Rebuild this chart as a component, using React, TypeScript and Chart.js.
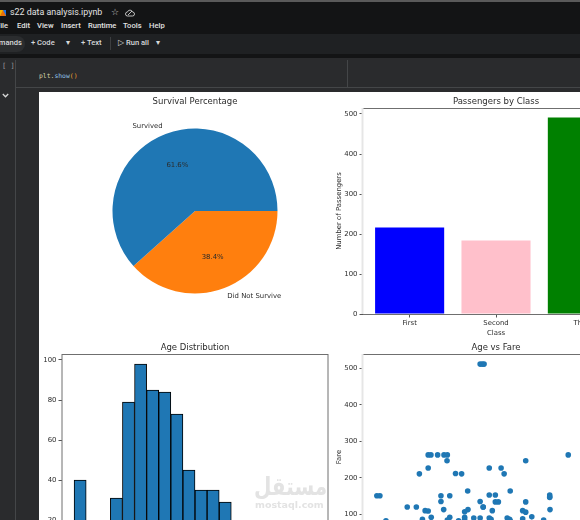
import React, { useEffect, useRef } from 'react';
import { Chart, registerables } from 'chart.js';

Chart.register(...registerables);
Chart.defaults.font.family = '"DejaVu Sans", sans-serif';
Chart.defaults.color = '#2b2b2b';

const surviveLabels = ['Did Not Survive', 'Survived'];
const surviveValues = [38.4, 61.6];

const classLabels = ['First', 'Second', 'Third'];
const classValues = [216, 184, 491];
const classPositions = [0, 1, 2];
const classTicks = [0, 100, 200, 300, 400, 500];

const ageBinCenters = [2.41, 6.39, 10.37, 14.35, 18.33, 22.31, 26.29, 30.27, 34.25, 38.23, 42.21, 46.19, 50.17, 54.15, 58.13, 62.11, 66.09, 70.07, 74.05, 78.03];
const ageBinCounts = [40, 14, 15, 31, 79, 98, 85, 84, 73, 45, 35, 35, 29, 16, 13, 11, 4, 5, 1, 1];
const ageCountTicks = [0, 20, 40, 60, 80, 100];
const ageTicks = [0, 20, 40, 60, 80];

const scatterAges = [35, 35.7, 36.3, 17.9, 18.8, 21, 23.1, 24.2, 64, 24.1, 50, 17.9, 38, 41.9, 15, 26.9, 28.9, 42.9, 1, 2, 22.1, 25, 30.9, 44.9, 38, 40, 57.9, 57.9, 57.9, 22.1, 35, 36, 40, 41, 50, 11, 14, 36, 16.9, 17.9, 23, 39, 49, 50, 58, 31, 29.9, 18.9, 25, 29.9, 32.9, 35, 38, 43.9, 49, 52, 16, 24.2, 29.9, 38.6, 44.7, 55.9, 4, 27.9, 44.9];
const scatterFares = [512, 512, 512, 263, 263, 263, 263, 263, 263, 247, 247, 227, 227, 227, 211, 212, 211, 211, 151, 151, 151, 151, 164, 164, 153, 153, 153, 148, 146, 135, 135, 120, 134, 134, 134, 120, 120, 120, 110, 109, 113, 110, 110, 106, 113, 113, 107, 92, 92, 92, 90, 90, 90, 90, 88, 93, 86, 84, 86, 86, 86, 84, 82, 82, 82];
const fareTicks = [0, 100, 200, 300, 400, 500];

const blue = '#1f77b4';
const orange = '#ff7f0e';
const spine = '#6f6f6f';
const titleFont = '8.5px "DejaVu Sans", sans-serif';
const labelFont = '6.9px "DejaVu Sans", sans-serif';

// matplotlib style frame and a title centred over the plot, not the canvas
const framePlugin = {
  id: 'frame',
  afterDraw(chart: any, _args: any, opts: any) {
    const { ctx, chartArea: a } = chart;
    ctx.save();
    ctx.font = titleFont;
    ctx.fillStyle = '#2b2b2b';
    ctx.textAlign = 'center';
    ctx.textBaseline = 'middle';
    ctx.fillText(opts.title, opts.pie ? chart.width / 2 : (a.left + a.right) / 2, 9.8);
    if (!opts.pie) {
      ctx.strokeStyle = spine;
      ctx.lineWidth = 1;
      ctx.beginPath();
      ctx.moveTo(a.left, a.bottom + 0.5);
      ctx.lineTo(a.right, a.bottom + 0.5);
      ctx.moveTo(a.left, a.top + 0.5);
      ctx.lineTo(a.right, a.top + 0.5);
      ctx.moveTo(a.right, a.top);
      ctx.lineTo(a.right, a.bottom);
      ctx.stroke();
      ctx.strokeStyle = opts.leftColor;
      ctx.lineWidth = opts.leftWidth;
      ctx.beginPath();
      ctx.moveTo(a.left - opts.leftWidth / 2 + 0.5, a.top);
      ctx.lineTo(a.left - opts.leftWidth / 2 + 0.5, a.bottom);
      ctx.stroke();
    }
    ctx.restore();
  },
};

// labels sit outside the wedge at 1.1 r, percentages inside at 0.6 r
const pieTextPlugin = {
  id: 'pieText',
  afterDatasetsDraw(chart: any) {
    const { ctx } = chart;
    ctx.save();
    ctx.font = labelFont;
    ctx.fillStyle = '#2b2b2b';
    ctx.textBaseline = 'middle';
    chart.getDatasetMeta(0).data.forEach((arc: any, i: number) => {
      const mid = (arc.startAngle + arc.endAngle) / 2;
      const r = arc.outerRadius;
      const cos = Math.cos(mid);
      const sin = Math.sin(mid);
      ctx.textAlign = 'center';
      ctx.fillText(surviveValues[i].toFixed(1) + '%', arc.x + 0.6 * r * cos, arc.y + 0.6 * r * sin);
      ctx.textAlign = cos > 0 ? 'left' : 'right';
      ctx.fillText(surviveLabels[i], arc.x + 1.1 * r * cos, arc.y + 1.1 * r * sin);
    });
    ctx.restore();
  },
};

const tickFont = { size: 6.9 };

const xAxis = (min: number, max: number, ticks: number[], title: string, labels?: string[]) => ({
  type: 'linear',
  offset: false,
  min,
  max,
  afterFit: (s: any) => { s.height = 28; },
  afterBuildTicks: (s: any) => { s.ticks = ticks.map((value) => ({ value })); },
  grid: { display: true, drawOnChartArea: false, tickLength: 3.5, tickColor: '#555', offset: false },
  border: { display: false },
  ticks: {
    font: tickFont,
    padding: 2,
    maxRotation: 0,
    autoSkip: false,
    callback: (v: number) => (labels ? labels[v] : String(v)),
  },
  title: { display: !!title, text: title, font: tickFont, padding: { top: 0, bottom: 5 } },
});

const yAxis = (min: number, max: number, ticks: number[], title: string, width: number) => ({
  min,
  max,
  afterFit: (s: any) => { s.width = width; },
  afterBuildTicks: (s: any) => { s.ticks = ticks.map((value) => ({ value })); },
  grid: { display: true, drawOnChartArea: false, tickLength: 3.5, tickColor: '#555' },
  border: { display: false },
  ticks: { font: tickFont, padding: 2, autoSkip: false },
  title: { display: !!title, text: title, font: tickFont, padding: { top: 2, bottom: 0 } },
});

const baseOptions = {
  responsive: false,
  animation: false,
  events: [],
};

const pieConfig = {
  type: 'pie',
  data: {
    labels: surviveLabels,
    datasets: [{ data: surviveValues, backgroundColor: [orange, blue], borderWidth: 0 }],
  },
  options: {
    ...baseOptions,
    rotation: 90,
    layout: { padding: { left: 12.5, right: 12.5, top: 36.5, bottom: 36.5 } },
    plugins: {
      legend: { display: false },
      tooltip: { enabled: false },
      frame: { title: 'Survival Percentage', pie: true },
    },
  },
  plugins: [pieTextPlugin, framePlugin],
};

const classConfig = {
  type: 'bar',
  data: {
    datasets: [{
      data: classPositions.map((x, i) => ({ x, y: classValues[i] })),
      backgroundColor: ['#0000ff', '#ffc0cb', '#008000'],
      barPercentage: 0.8,
      categoryPercentage: 1,
    }],
  },
  options: {
    ...baseOptions,
    layout: { padding: { top: 16, right: 30 } },
    scales: {
      x: xAxis(-0.54, 2.54, classPositions, 'Class', classLabels),
      y: yAxis(0, 515, classTicks, 'Number of Passengers', 30),
    },
    plugins: {
      legend: { display: false },
      tooltip: { enabled: false },
      frame: { title: 'Passengers by Class', leftColor: '#e6e6e6', leftWidth: 2 },
    },
  },
  plugins: [framePlugin],
};

const ageConfig = {
  type: 'bar',
  data: {
    datasets: [{
      data: ageBinCenters.map((x, i) => ({ x, y: ageBinCounts[i] })),
      backgroundColor: blue,
      borderColor: '#000000',
      borderWidth: 1,
      borderSkipped: false,
      barPercentage: 1,
      categoryPercentage: 1,
    }],
  },
  options: {
    ...baseOptions,
    layout: { padding: { top: 16, right: 5 } },
    scales: {
      x: xAxis(-3.56, 84, ageTicks, 'Age'),
      y: yAxis(0, 103, ageCountTicks, '', 26),
    },
    plugins: {
      legend: { display: false },
      tooltip: { enabled: false },
      frame: { title: 'Age Distribution', leftColor: spine, leftWidth: 1 },
    },
  },
  plugins: [framePlugin],
};

const scatterConfig = {
  type: 'scatter',
  data: {
    datasets: [{
      data: scatterAges.map((x, i) => ({ x, y: scatterFares[i] })),
      backgroundColor: blue,
      borderWidth: 0,
      pointRadius: 2.8,
    }],
  },
  options: {
    ...baseOptions,
    layout: { padding: { top: 16, right: 30 } },
    scales: {
      x: xAxis(-3.56, 84, ageTicks, 'Age'),
      y: yAxis(-25.3, 539.7, fareTicks, 'Fare', 30),
    },
    plugins: {
      legend: { display: false },
      tooltip: { enabled: false },
      frame: { title: 'Age vs Fare', leftColor: '#e6e6e6', leftWidth: 2 },
    },
  },
  plugins: [framePlugin],
};

const ChartCanvas = ({ config, left, top, width, height }: any) => {
  const canvasRef = useRef<HTMLCanvasElement | null>(null);

  useEffect(() => {
    if (!canvasRef.current) return;
    const chart = new Chart(canvasRef.current, config);
    return () => chart.destroy();
  }, [config]);

  return (
    <canvas
      ref={canvasRef}
      width={width}
      height={height}
      style={{ position: 'absolute', left, top, width, height }}
    />
  );
};

const at = (left: number, top: number, extra: React.CSSProperties = {}): React.CSSProperties => ({
  position: 'absolute',
  left,
  top,
  whiteSpace: 'nowrap',
  ...extra,
});

const Menu = ({ x, children }: any) => (
  <div style={at(x, 21, { fontSize: 7.6, fontWeight: 500, color: '#e3e3e3' })}>{children}</div>
);

const Tool = ({ x, children }: any) => (
  <div style={at(x, 38, { fontSize: 7.6, fontWeight: 500, color: '#d6d8da' })}>{children}</div>
);

const App = () => (
  <div style={{ position: 'relative', width: 580, height: 520, overflow: 'hidden', background: '#2a2b2d', fontFamily: 'Roboto, sans-serif' }}>
    <style>{'body{margin:0;overflow:hidden}'}</style>

    {/* notebook chrome */}
    <div style={at(0, 0, { width: 580, height: 2, background: '#5a5a5a' })} />
    <div style={at(0, 2, { width: 580, height: 32, background: '#131415' })} />
    <div style={at(0, 34, { width: 580, height: 20, background: '#1f2123' })} />
    <div style={at(0, 54, { width: 580, height: 4, background: '#131415' })} />
    <div style={at(15, 60, { width: 1, height: 460, background: '#444648' })} />
    <div style={at(15, 87, { width: 565, height: 1, background: '#444648' })} />
    <div style={at(347, 60, { width: 1, height: 27, background: '#444648' })} />

    <div style={at(0, 10, { width: 0, height: 0, borderLeft: '3px solid #f4b400', borderRight: '3px solid #1a73e8', borderBottom: '6px solid #e8710a' })} />
    <div style={at(10, 7, { fontSize: 8.9, color: '#e3e3e3' })}>s22 data analysis.ipynb</div>
    <div style={at(111, 7, { fontSize: 9, color: '#d0d0d0' })}>☆</div>
    <svg style={at(125, 9, {})} width="10" height="8" viewBox="0 0 10 8">
      <path d="M2.5 7 A2 2 0 0 1 2.5 3 A2.6 2.6 0 0 1 7.5 3 A2 2 0 0 1 7.5 7 Z M3 6 L7 2" fill="none" stroke="#d0d0d0" strokeWidth="0.9" />
    </svg>

    <Menu x={-4}>File</Menu>
    <Menu x={17}>Edit</Menu>
    <Menu x={37}>View</Menu>
    <Menu x={61}>Insert</Menu>
    <Menu x={88}>Runtime</Menu>
    <Menu x={123}>Tools</Menu>
    <Menu x={149}>Help</Menu>

    <div style={at(-20, 36, { width: 45, height: 16, borderRadius: 8, background: '#2b2d2f' })} />
    <div style={at(0, 38, { width: 22, overflow: 'hidden', direction: 'rtl', fontSize: 7.6, fontWeight: 500, color: '#d6d8da' })}>Commands</div>
    <Tool x={31}>+ Code</Tool>
    <Tool x={66}>▾</Tool>
    <Tool x={81}>+ Text</Tool>
    <div style={at(110, 37, { width: 1, height: 13, background: '#3c3e40' })} />
    <Tool x={118}>▷ Run all</Tool>
    <Tool x={156}>▾</Tool>

    <div style={at(2, 62, { fontSize: 7, color: '#9a9a9a', fontFamily: '"DejaVu Sans Mono", monospace' })}>[ ]</div>
    <svg style={at(2, 93, {})} width="7" height="5" viewBox="0 0 7 5">
      <path d="M0.8 1 L3.5 3.8 L6.2 1" fill="none" stroke="#d8d8d8" strokeWidth="1.3" />
    </svg>
    <div style={at(39, 72, { fontSize: 6.4, fontFamily: '"DejaVu Sans Mono", monospace', color: '#d7d2a8' })}>
      plt.<span style={{ color: '#8fc1e8' }}>show</span><span style={{ color: '#f0a030' }}>()</span>
    </div>

    {/* output panel */}
    <div style={at(39, 92, { width: 541, height: 428, background: '#ffffff' })} />
    <ChartCanvas config={pieConfig} left={100} top={92} width={190} height={238} />
    <ChartCanvas config={classConfig} left={333} top={92} width={326} height={250} />
    <ChartCanvas config={ageConfig} left={36} top={338} width={297} height={250} />
    <ChartCanvas config={scatterConfig} left={333} top={338} width={326} height={250} />

    {/* watermark */}
    <div style={at(254, 474, { fontSize: 20, fontWeight: 700, color: '#e3e3e3', fontFamily: '"DejaVu Sans", sans-serif', transform: 'scaleY(1.25)', transformOrigin: 'left center' })}>مستقل</div>
    <div style={at(255, 499, { fontSize: 9.5, fontWeight: 700, color: '#e3e3e3', fontFamily: '"DejaVu Sans", sans-serif' })}>mostaql.com</div>
  </div>
);

export default App;
